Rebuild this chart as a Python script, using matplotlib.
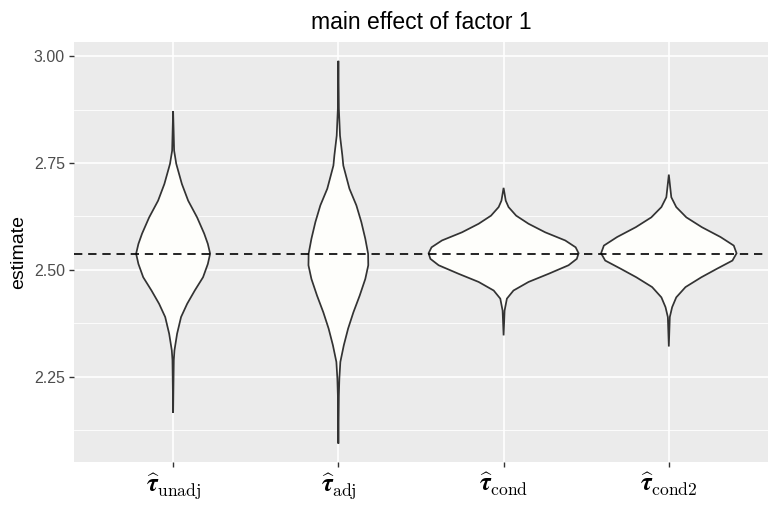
import numpy as np
import matplotlib.pyplot as plt

plt.rcParams['font.family'] = ['Liberation Sans', 'DejaVu Sans']
plt.rcParams['mathtext.fontset'] = 'cm'

# categories and tick labels
categories = ['unadj', 'adj', 'cond', 'cond2']
tick_labels = [r'$\widehat{\boldsymbol{\tau}}_{\mathrm{unadj}}$',
               r'$\widehat{\boldsymbol{\tau}}_{\mathrm{adj}}$',
               r'$\widehat{\boldsymbol{\tau}}_{\mathrm{cond}}$',
               r'$\widehat{\boldsymbol{\tau}}_{\mathrm{cond2}}$']

# violin outlines: estimate value vs half width
unadj_y = [2.871, 2.826, 2.779, 2.748, 2.701, 2.662, 2.623, 2.585, 2.561, 2.538,
           2.514, 2.483, 2.452, 2.421, 2.390, 2.351, 2.312, 2.289, 2.231, 2.166]
unadj_w = [0.0, 0.003, 0.006, 0.019, 0.053, 0.091, 0.145, 0.188, 0.210, 0.224,
           0.210, 0.181, 0.131, 0.085, 0.048, 0.024, 0.008, 0.004, 0.002, 0.0]

adj_y = [2.989, 2.877, 2.814, 2.768, 2.744, 2.690, 2.651, 2.612, 2.573, 2.538,
         2.511, 2.479, 2.440, 2.401, 2.363, 2.324, 2.285, 2.246, 2.207, 2.094]
adj_w = [0.0, 0.003, 0.010, 0.024, 0.030, 0.067, 0.109, 0.139, 0.163, 0.180,
         0.181, 0.163, 0.129, 0.091, 0.059, 0.033, 0.012, 0.006, 0.003, 0.0]

cond_y = [2.692, 2.662, 2.647, 2.627, 2.608, 2.588, 2.569, 2.553, 2.539, 2.526,
          2.511, 2.491, 2.472, 2.452, 2.433, 2.405, 2.347]
cond_w = [0.0, 0.013, 0.030, 0.076, 0.151, 0.252, 0.373, 0.436, 0.454, 0.443,
          0.393, 0.272, 0.151, 0.060, 0.020, 0.006, 0.0]

cond2_y = [2.723, 2.670, 2.647, 2.623, 2.600, 2.577, 2.557, 2.539, 2.522, 2.503,
           2.483, 2.460, 2.436, 2.413, 2.390, 2.321]
cond2_w = [0.0, 0.015, 0.045, 0.106, 0.200, 0.313, 0.393, 0.410, 0.385, 0.292,
           0.197, 0.101, 0.045, 0.020, 0.006, 0.0]

true_value = 2.538

profiles = [(unadj_y, unadj_w), (adj_y, adj_w), (cond_y, cond_w), (cond2_y, cond2_w)]

fig = plt.figure(figsize=(7.78, 5.19), dpi=100)
ax = fig.add_axes([0.0951, 0.1098, 0.892, 0.8093])
ax.set_facecolor('#EBEBEB')

# grid like ggplot
for yv in [2.125, 2.375, 2.625, 2.875]:
    ax.axhline(yv, color='white', lw=0.6, zorder=0)
for yv in [2.25, 2.50, 2.75, 3.00]:
    ax.axhline(yv, color='white', lw=1.2, zorder=0)
for i in range(len(categories)):
    ax.axvline(i + 1, color='white', lw=1.2, zorder=0)

for i, (ys, ws) in enumerate(profiles):
    ys = np.array(ys)
    ws = np.array(ws)
    xs = np.concatenate([i + 1 + ws, (i + 1 - ws)[::-1]])
    yy = np.concatenate([ys, ys[::-1]])
    ax.fill(xs, yy, facecolor='#FEFEFB', edgecolor='#333333', lw=1.25, zorder=2)

ax.axhline(true_value, color='black', lw=1.2, ls=(0, (5, 3.5)), zorder=3)

ax.set_xlim(0.4, 4.6)
ax.set_ylim(2.051, 3.033)
ax.set_xticks(range(1, len(categories) + 1))
ax.set_xticklabels(tick_labels, fontsize=18)
ax.set_yticks([2.25, 2.50, 2.75, 3.00])
ax.set_yticklabels(['2.25', '2.50', '2.75', '3.00'], fontsize=11.5, color='#4D4D4D')
ax.tick_params(axis='both', length=3.5, width=1.0, color='#333333', pad=3)
ax.tick_params(axis='x', pad=3)
for s in ax.spines.values():
    s.set_visible(False)

ax.set_ylabel('estimate', fontsize=14, labelpad=5)
ax.set_title('main effect of factor 1', fontsize=16.5, pad=9)

fig.savefig('out.png', dpi=100)
